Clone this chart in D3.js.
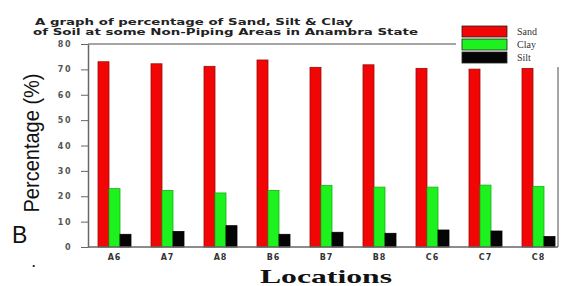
<!DOCTYPE html>
<html>
<head>
<meta charset="utf-8">
<script src="https://cdn.jsdelivr.net/npm/d3@7"></script>
<style>
  body { margin: 0; background: #fff; }
  svg { display: block; }
</style>
</head>
<body>
<svg id="chart" width="563" height="286"></svg>
<script>
// --- data ---
const locations = ["A6", "A7", "A8", "B6", "B7", "B8", "C6", "C7", "C8"];
const sand = [73.0, 72.2, 71.2, 73.7, 70.8, 71.8, 70.4, 70.1, 70.4];
const clay = [23.0, 22.3, 21.3, 22.3, 24.3, 23.6, 23.6, 24.4, 23.9];
const silt = [5.0, 6.1, 8.4, 5.0, 5.8, 5.4, 6.7, 6.3, 4.1];
const yTicks = [0, 10, 20, 30, 40, 50, 60, 70, 80];
const seriesNames = ["Sand", "Clay", "Silt"];
const seriesColors = ["#f20505", "#1ef21e", "#050505"];
const seriesStroke = ["#9a0a0a", "#18b018", "#000"];

const svg = d3.select("#chart");

// plot frame
const frame = { left: 88, right: 558, top: 44, bottom: 247 };

const x = d3.scaleBand().domain(locations).range([88, 565]).paddingInner(0).paddingOuter(0);
const sub = d3.scaleBand().domain(seriesNames).range([0, 33]);
const y = d3.scaleLinear().domain([0, 80]).range([frame.bottom, frame.top]);

// frame top & right
svg.append("path")
  .attr("d", `M${frame.left},${frame.top}H${frame.right}V${frame.bottom}`)
  .attr("fill", "none").attr("stroke", "#888").attr("stroke-width", 1.5);

// bars
const series = [sand, clay, silt];
series.forEach((vals, si) => {
  svg.append("g").selectAll("rect")
    .data(vals)
    .join("rect")
    .attr("x", (d, i) => x(locations[i]) + x.bandwidth() / 2 - 16.5 + sub(seriesNames[si]))
    .attr("width", sub.bandwidth())
    .attr("y", d => y(d))
    .attr("height", d => y(0) - y(d))
    .attr("fill", seriesColors[si])
    .attr("stroke", seriesStroke[si])
    .attr("stroke-width", 0.8);
});

// y axis
const yAxis = svg.append("g")
  .attr("transform", `translate(${frame.left},0)`)
  .call(d3.axisLeft(y).tickValues(yTicks).tickSize(7).tickSizeOuter(0).tickPadding(9));
yAxis.select(".domain").attr("stroke", "#666").attr("stroke-width", 1.5);
yAxis.selectAll(".tick line").attr("stroke", "#666");
yAxis.selectAll("text")
  .style("font-family", "'DejaVu Sans', Arial, sans-serif")
  .style("font-weight", "bold").style("font-size", "8px")
  .style("letter-spacing", "1.5px").attr("fill", "#555");

// x axis
const xAxis = svg.append("g")
  .attr("transform", `translate(0,${frame.bottom})`)
  .call(d3.axisBottom(x).tickSize(0).tickPadding(7));
xAxis.select(".domain").remove();
svg.append("line")
  .attr("x1", frame.left).attr("x2", frame.right)
  .attr("y1", frame.bottom).attr("y2", frame.bottom)
  .attr("stroke", "#666").attr("stroke-width", 1.5);
xAxis.selectAll("text")
  .style("font-family", "'DejaVu Sans', Arial, sans-serif")
  .style("font-weight", "bold").style("font-size", "8px")
  .style("letter-spacing", "1px").attr("fill", "#333");

// title
const title = svg.append("text")
  .style("font-family", "'DejaVu Sans', Arial, sans-serif")
  .style("font-weight", "bold").style("font-size", "9.5px").attr("fill", "#222");
title.append("tspan").attr("x", 35).attr("y", 25)
  .attr("textLength", 318).attr("lengthAdjust", "spacingAndGlyphs")
  .text("A graph of percentage of Sand, Silt & Clay");
title.append("tspan").attr("x", 33).attr("y", 35)
  .attr("textLength", 385).attr("lengthAdjust", "spacingAndGlyphs")
  .text("of Soil at some Non-Piping Areas in Anambra State");

// legend
const legend = svg.append("g");
legend.append("rect").attr("x", 456).attr("y", 22).attr("width", 107).attr("height", 45).attr("fill", "#fff");
seriesNames.forEach((name, i) => {
  legend.append("rect")
    .attr("x", 462).attr("y", 26 + i * 13).attr("width", 45).attr("height", 11)
    .attr("fill", seriesColors[i]).attr("stroke", "#222").attr("stroke-width", 0.8);
  legend.append("text")
    .attr("x", 517).attr("y", 35 + i * 13)
    .style("font-family", "'Liberation Serif', serif")
    .style("font-size", "10px").attr("fill", "#333")
    .text(name);
});

// y label
svg.append("text")
  .attr("transform", "translate(39,143) rotate(-90)")
  .attr("text-anchor", "middle")
  .attr("textLength", 139).attr("lengthAdjust", "spacingAndGlyphs")
  .style("font-family", "'Liberation Sans', Arial, sans-serif")
  .style("font-size", "22px").attr("fill", "#111")
  .text("Percentage (%)");

// x label
svg.append("text")
  .attr("x", 260).attr("y", 283)
  .attr("textLength", 132).attr("lengthAdjust", "spacingAndGlyphs")
  .style("font-family", "'Liberation Serif', 'Times New Roman', serif")
  .style("font-weight", "bold").style("font-size", "19px")
  .attr("fill", "#111")
  .text("Locations");

// panel letter
svg.append("text")
  .attr("x", 12).attr("y", 243)
  .style("font-family", "'Liberation Sans', Arial, sans-serif")
  .style("font-size", "23px").attr("fill", "#111")
  .text("B");
svg.append("text")
  .attr("x", 32).attr("y", 267)
  .style("font-family", "'Liberation Sans', Arial, sans-serif")
  .style("font-size", "12px").style("font-weight", "bold").attr("fill", "#111")
  .text(".");
</script>
</body>
</html>
